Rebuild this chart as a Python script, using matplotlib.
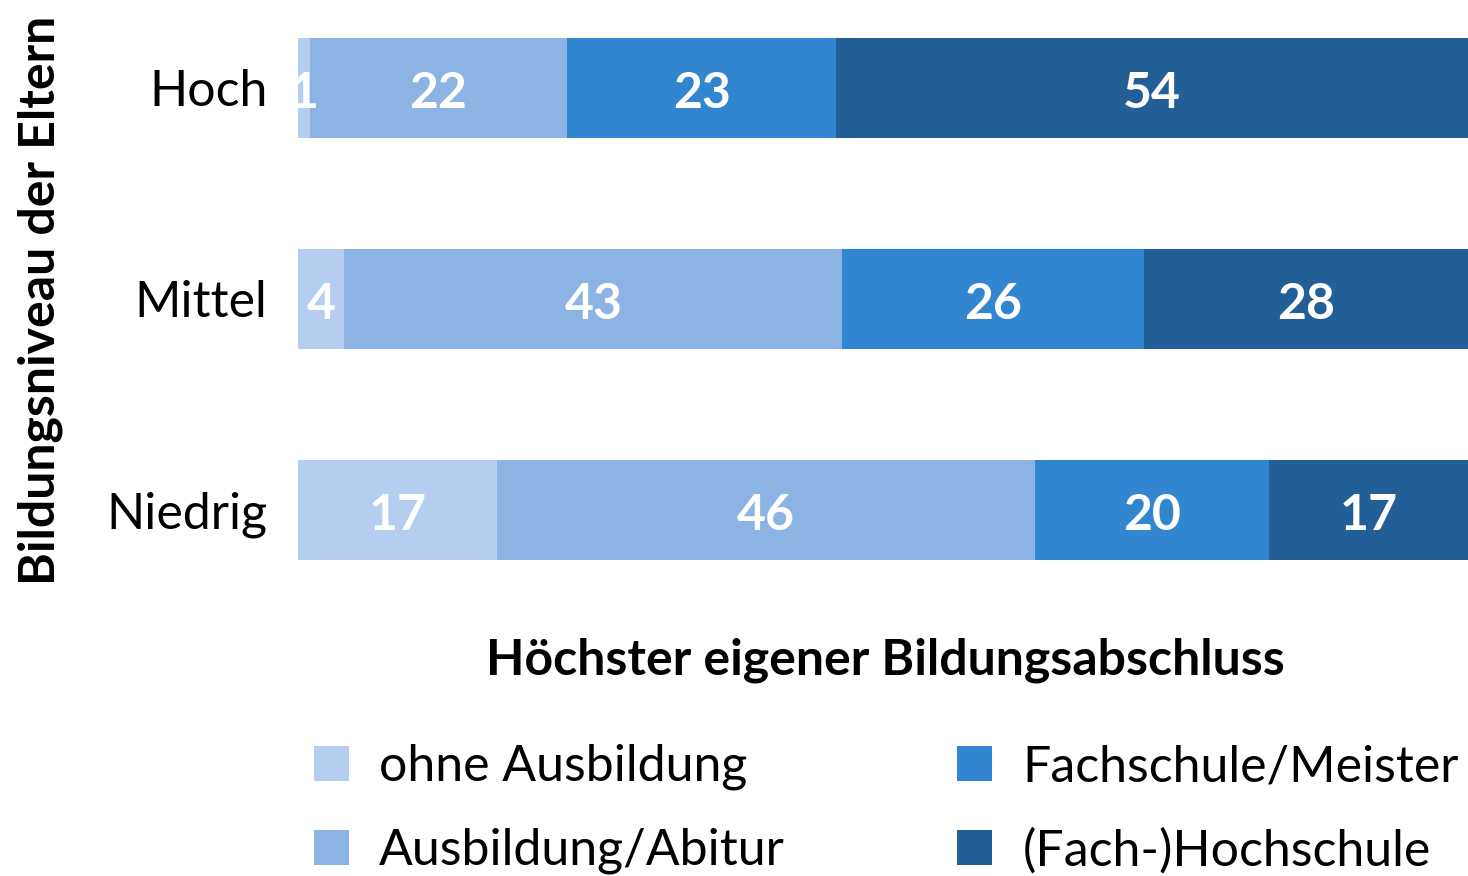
import matplotlib.pyplot as plt
from matplotlib.patches import Patch
import numpy as np

plt.rcParams['font.family'] = ['Lato', 'DejaVu Sans']

# Daten (Prozent je Bildungsniveau der Eltern)
groups = ['Niedrig', 'Mittel', 'Hoch']
series = ['ohne Ausbildung', 'Ausbildung/Abitur', 'Fachschule/Meister', '(Fach-)Hochschule']
ohne = [17, 4, 1]
ausbildung = [46, 43, 22]
fachschule = [20, 26, 23]
hochschule = [17, 28, 54]
colors = ['#b4cdf0', '#8bb3e4', '#3186cf', '#225f97']

values = np.array([ohne, ausbildung, fachschule, hochschule], dtype=float)
totals = values.sum(axis=0)
shares = values / totals * 100  # jede Zeile auf 100 normieren

fig = plt.figure(figsize=(14.68, 8.76), dpi=100)
ax = fig.add_axes([298/1468, 1 - 560/876, 1 - 298/1468, (560 - 38)/876])

y = np.arange(len(groups))
left = np.zeros(len(groups))
for i, name in enumerate(series):
    bars = ax.barh(y, shares[i], left=left, height=0.473, color=colors[i], label=name)
    for j, b in enumerate(bars):
        ax.text(left[j] + shares[i][j] / 2, y[j] - 0.025, f'{int(values[i][j])}',
                ha='center', va='center', color='white', fontsize=36, fontweight='bold')
    left += shares[i]

ax.set_xlim(0, 100)
ax.set_ylim(-0.2365, 2.2365)
ax.set_yticks(y)
ax.set_yticklabels(groups, fontsize=36)
ax.tick_params(axis='y', length=0, pad=22)
ax.set_xticks([])
for s in ax.spines.values():
    s.set_visible(False)

fig.text(40/1468, 1 - 300/876, 'Bildungsniveau der Eltern', rotation=90,
         ha='center', va='center', fontsize=36, fontweight='bold')
fig.text(885/1468, 1 - 660/876, 'Höchster eigener Bildungsabschluss',
         ha='center', va='center', fontsize=36, fontweight='bold')

handles = [Patch(facecolor=c, edgecolor='none') for c in colors]
fig.legend(handles, series, loc='upper left', bbox_to_anchor=(314/1468, 1 - 744/876),
           ncol=2, frameon=False, fontsize=36, borderpad=0, borderaxespad=0,
           handlelength=0.7, handleheight=0.7, handletextpad=0.6,
           labelspacing=0.75, columnspacing=3.45)

fig.savefig('out.png', dpi=100)
